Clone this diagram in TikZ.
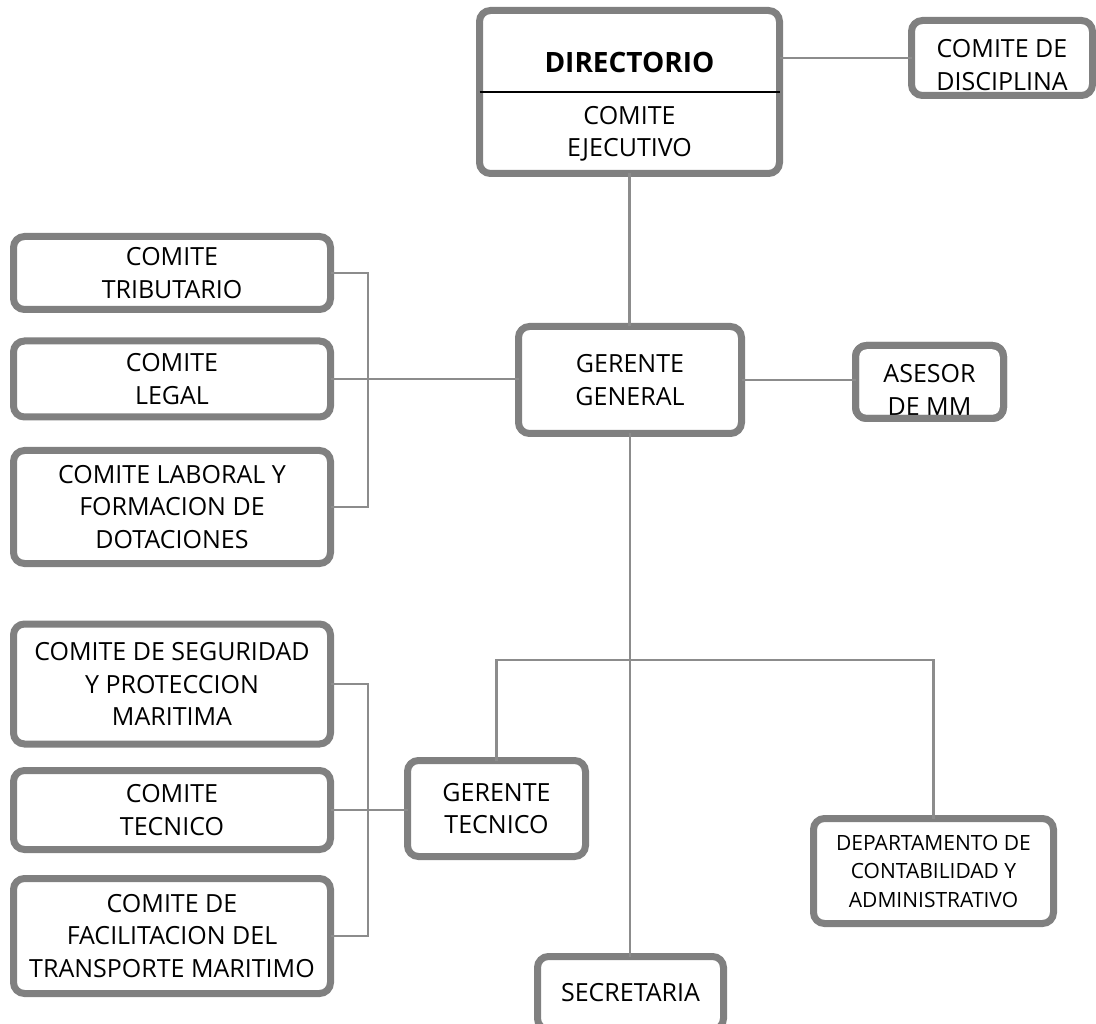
\documentclass[tikz,border=0pt]{standalone}
\usepackage{fontspec}
\setmainfont{Open Sans}
\begin{document}
\begin{tikzpicture}[x=1pt,y=-1pt,
  box/.style={draw=boxgray, line width=7pt, fill=white, rounded corners=11pt,
    inner sep=0pt, outer sep=0pt, align=center, font=\fontsize{25}{32.5}\selectfont},
  boxline/.style={draw=boxgray, line width=7pt, rounded corners=11pt},
  lbl/.style={inner sep=0pt, align=center, font=\fontsize{25}{32.5}\selectfont},
  conn/.style={draw=conngray, line width=2.6pt},
  divider/.style={draw=black, line width=1.8pt}]
\definecolor{boxgray}{RGB}{128,128,128}
\definecolor{conngray}{RGB}{140,140,140}
\useasboundingbox (0,0) rectangle (1096,1024);
\clip (0,0) rectangle (1096,1024);
% boxes (size = outer size - line width)
\node[box, minimum width=300pt, minimum height=163pt] (dir) at (629.5,92) {};
\node[lbl, font=\fontsize{28}{34}\selectfont\bfseries] (dirt) at (629.5,62) {DIRECTORIO};
\node[lbl] (dirb) at (629.5,134) {COMITE\\EJECUTIVO};
\draw[divider] (dir.west) -- (dir.east);

\node[box, minimum width=181pt, minimum height=75pt] (disc) at (1002,58) {};
\node[lbl] (disct) at (1002,65) {COMITE DE\\DISCIPLINA};

\node[box, minimum width=223pt, minimum height=107pt] (gg) at (630,380) {GERENTE\\GENERAL};

\node[box, minimum width=148pt, minimum height=73pt] (ases) at (929.5,382) {};
\node[lbl] (asest) at (929.5,390) {ASESOR\\DE MM};
\draw[boxline] (ases.south west) rectangle (ases.north east);

\node[box, minimum width=317pt, minimum height=73pt] (trib) at (172,273) {COMITE\\TRIBUTARIO};
\node[box, minimum width=317pt, minimum height=76pt] (legal) at (172,379) {COMITE\\LEGAL};
\node[box, minimum width=317pt, minimum height=113pt] (labo) at (172,507) {COMITE LABORAL Y\\FORMACION DE\\DOTACIONES};

\node[box, minimum width=317pt, minimum height=120pt] (segu) at (172,684) {COMITE DE SEGURIDAD\\Y PROTECCION\\MARITIMA};
\node[box, minimum width=317pt, minimum height=79pt] (tecn) at (172,810) {COMITE\\TECNICO};
\node[box, minimum width=317pt, minimum height=115pt] (faci) at (172,936) {COMITE DE\\FACILITACION DEL\\TRANSPORTE MARITIMO};

\node[box, minimum width=178pt, minimum height=96pt] (gt) at (496.5,808.5) {GERENTE\\TECNICO};

\node[box, minimum width=240pt, minimum height=105pt, font=\fontsize{21}{28.5}\selectfont] (dept) at (933.5,871) {DEPARTAMENTO DE\\CONTABILIDAD Y\\ADMINISTRATIVO};

\node[box, minimum width=186pt, minimum height=73pt] (secr) at (630.5,993) {SECRETARIA};

% connectors
\coordinate (bl) at (368,0);
\coordinate (bus) at (0,660);
\draw[conn] (dir.east |- disc.west) -- (disc.west);
\draw[conn] (dir.south) -- (dir.south |- gg.north);
\draw[conn] (gg.east) -- (gg.east -| ases.west);
\draw[conn] (trib.east) -| (bl |- labo.east) -- (labo.east);
\draw[conn] (legal.east) -- (legal.east -| gg.west);
\draw[conn] (segu.east) -| (bl |- faci.east) -- (faci.east);
\draw[conn] (tecn.east) -- (tecn.east -| gt.west);
\draw[conn] (gg.south) -- (gg.south |- secr.north);
\draw[conn] (gt.north) |- (dept.north |- bus) -- (dept.north);
\end{tikzpicture}
\end{document}
